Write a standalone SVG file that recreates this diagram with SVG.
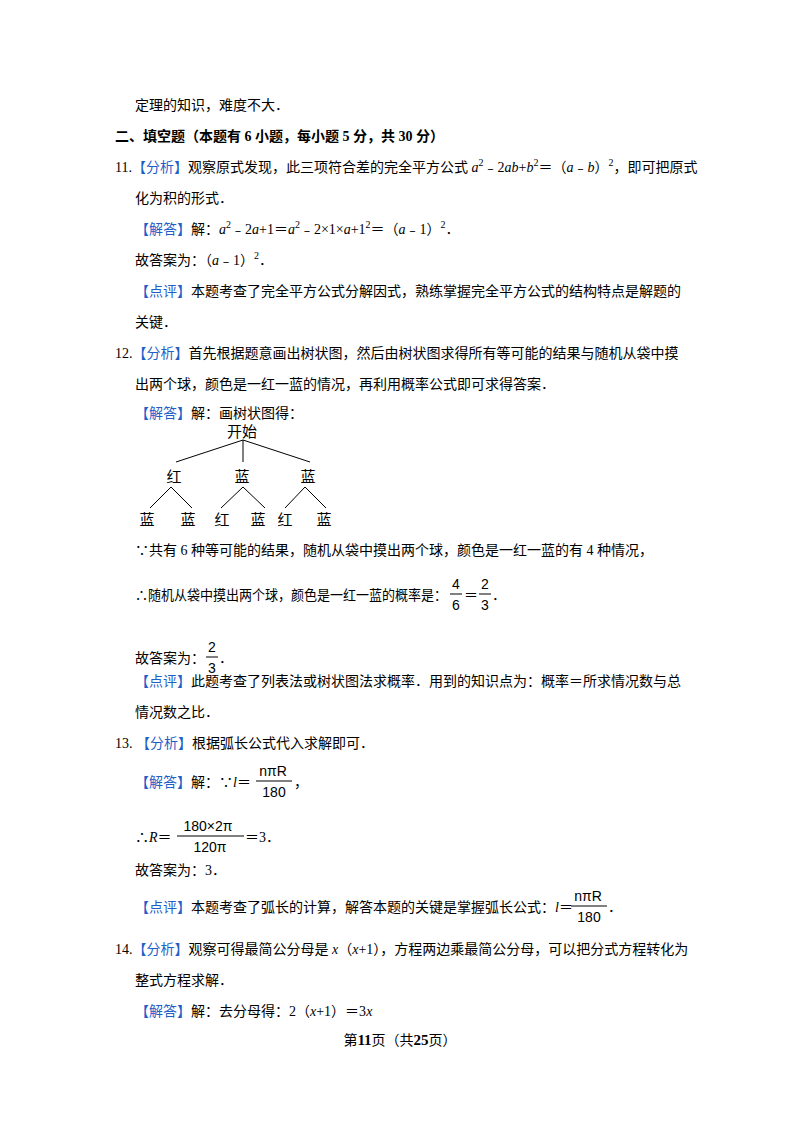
<svg xmlns="http://www.w3.org/2000/svg" width="800" height="1132" viewBox="0 0 800 1132">
<style>
text{font-family:"Liberation Serif","Noto Sans CJK SC",serif;font-size:14px;fill:#000}
.b{fill:#1f5fc8}
.i{font-style:italic}
.s{font-size:10px}
.t{font-family:"Noto Sans CJK SC",sans-serif;font-size:15px}
.f{font-family:"Liberation Sans","Noto Sans CJK SC",sans-serif;font-size:14px}
line{stroke:#000;stroke-width:1}
</style>
<rect width="800" height="1132" fill="#fff"/>
<text x="135" y="110">定理的知识，难度不大．</text>
<text x="115" y="141" font-weight="bold">二、填空题（本题有 6 小题，每小题 5 分，共 30 分）</text>
<text x="115" y="172">11.<tspan class="b">【分析】</tspan>观察原式发现，此三项符合差的完全平方公式 <tspan class="i">a</tspan><tspan class="s" dy="-6">2</tspan><tspan dy="6">﹣2</tspan><tspan class="i">ab</tspan>+<tspan class="i">b</tspan><tspan class="s" dy="-6">2</tspan><tspan dy="6">＝（</tspan><tspan class="i">a</tspan>﹣<tspan class="i">b</tspan>）<tspan class="s" dy="-6">2</tspan><tspan dy="6">，即可把原式</tspan></text>
<text x="135" y="203">化为积的形式．</text>
<text x="135" y="234"><tspan class="b">【解答】</tspan>解：<tspan class="i">a</tspan><tspan class="s" dy="-6">2</tspan><tspan dy="6">﹣2</tspan><tspan class="i">a</tspan>+1＝<tspan class="i">a</tspan><tspan class="s" dy="-6">2</tspan><tspan dy="6">﹣2×1×</tspan><tspan class="i">a</tspan>+1<tspan class="s" dy="-6">2</tspan><tspan dy="6">＝（</tspan><tspan class="i">a</tspan>﹣1）<tspan class="s" dy="-6">2</tspan><tspan dy="6">．</tspan></text>
<text x="135" y="265">故答案为：（<tspan class="i">a</tspan>﹣1）<tspan class="s" dy="-6">2</tspan><tspan dy="6">．</tspan></text>
<text x="135" y="296"><tspan class="b">【点评】</tspan>本题考查了完全平方公式分解因式，熟练掌握完全平方公式的结构特点是解题的</text>
<text x="135" y="327">关键．</text>
<text x="115" y="358">12.<tspan class="b">【分析】</tspan>首先根据题意画出树状图，然后由树状图求得所有等可能的结果与随机从袋中摸</text>
<text x="135" y="389">出两个球，颜色是一红一蓝的情况，再利用概率公式即可求得答案．</text>
<text x="135" y="418"><tspan class="b">【解答】</tspan>解：画树状图得：</text>
<g id="tree">
<g id="connectors">
<line x1="243" y1="440" x2="176" y2="462"/><line x1="243" y1="440" x2="243" y2="462"/><line x1="243" y1="440" x2="310" y2="462"/>
<line x1="171" y1="487" x2="150" y2="508"/><line x1="171" y1="487" x2="192" y2="508"/>
<line x1="243" y1="487" x2="221" y2="508"/><line x1="243" y1="487" x2="265" y2="508"/>
<line x1="305" y1="487" x2="285" y2="508"/><line x1="305" y1="487" x2="326" y2="508"/>
</g>
<g id="n0"><text class="t" x="242" y="437" text-anchor="middle">开始</text></g>
<g id="n1"><text class="t" x="174" y="482" text-anchor="middle">红</text></g>
<g id="n2"><text class="t" x="242" y="482" text-anchor="middle">蓝</text></g>
<g id="n3"><text class="t" x="308" y="482" text-anchor="middle">蓝</text></g>
<g id="n4"><text class="t" x="147" y="525" text-anchor="middle">蓝</text></g>
<g id="n5"><text class="t" x="188" y="525" text-anchor="middle">蓝</text></g>
<g id="n6"><text class="t" x="222" y="525" text-anchor="middle">红</text></g>
<g id="n7"><text class="t" x="258" y="525" text-anchor="middle">蓝</text></g>
<g id="n8"><text class="t" x="285" y="525" text-anchor="middle">红</text></g>
<g id="n9"><text class="t" x="324" y="525" text-anchor="middle">蓝</text></g>
</g>
<text x="135" y="555">∵共有 6 种等可能的结果，随机从袋中摸出两个球，颜色是一红一蓝的有 4 种情况，</text>
<text x="135" y="600" textLength="312" lengthAdjust="spacingAndGlyphs">∴随机从袋中摸出两个球，颜色是一红一蓝的概率是：</text>
<text class="f" x="456" y="589" text-anchor="middle">4</text><line x1="450" y1="594" x2="462" y2="594"/><text class="f" x="456" y="610" text-anchor="middle">6</text>
<text x="464" y="600">＝</text>
<text class="f" x="485" y="589" text-anchor="middle">2</text><line x1="479" y1="594" x2="491" y2="594"/><text class="f" x="485" y="610" text-anchor="middle">3</text>
<text x="492" y="600">．</text>
<text x="135" y="663">故答案为：</text>
<text class="f" x="212" y="652" text-anchor="middle">2</text><line x1="206" y1="657" x2="218" y2="657"/><text class="f" x="212" y="673" text-anchor="middle">3</text>
<text x="219" y="663">．</text>
<text x="135" y="686"><tspan class="b">【点评】</tspan>此题考查了列表法或树状图法求概率．用到的知识点为：概率＝所求情况数与总</text>
<text x="135" y="717">情况数之比．</text>
<text x="115" y="748">13. <tspan class="b">【分析】</tspan>根据弧长公式代入求解即可．</text>
<text x="135" y="787"><tspan class="b">【解答】</tspan>解：∵<tspan class="i">l</tspan>＝</text>
<text class="f" x="273" y="776" text-anchor="middle">nπR</text><line x1="256" y1="781" x2="292" y2="781"/><text class="f" x="274" y="797" text-anchor="middle">180</text>
<text x="294" y="787">，</text>
<text x="135" y="842">∴<tspan class="i">R</tspan>＝</text>
<text class="f" x="208" y="831" text-anchor="middle">180×2π</text><line x1="177" y1="836" x2="244" y2="836"/><text class="f" x="210" y="852" text-anchor="middle">120π</text>
<text x="245" y="842">＝3．</text>
<text x="135" y="875">故答案为：3．</text>
<text x="135" y="912"><tspan class="b">【点评】</tspan>本题考查了弧长的计算，解答本题的关键是掌握弧长公式：<tspan class="i">l</tspan>＝</text>
<text class="f" x="588" y="901" text-anchor="middle">nπR</text><line x1="571" y1="906" x2="607" y2="906"/><text class="f" x="589" y="922" text-anchor="middle">180</text>
<text x="608" y="912">．</text>
<text x="115" y="954">14.<tspan class="b">【分析】</tspan>观察可得最简公分母是 <tspan class="i">x</tspan>（<tspan class="i">x</tspan>+1），方程两边乘最简公分母，可以把分式方程转化为</text>
<text x="135" y="985">整式方程求解．</text>
<text x="135" y="1016"><tspan class="b">【解答】</tspan>解：去分母得：2（<tspan class="i">x</tspan>+1）＝3<tspan class="i">x</tspan></text>
<text x="400" y="1045" text-anchor="middle" font-size="13">第<tspan font-weight="bold" font-size="15">11</tspan>页（共<tspan font-weight="bold" font-size="15">25</tspan>页）</text>
</svg>
